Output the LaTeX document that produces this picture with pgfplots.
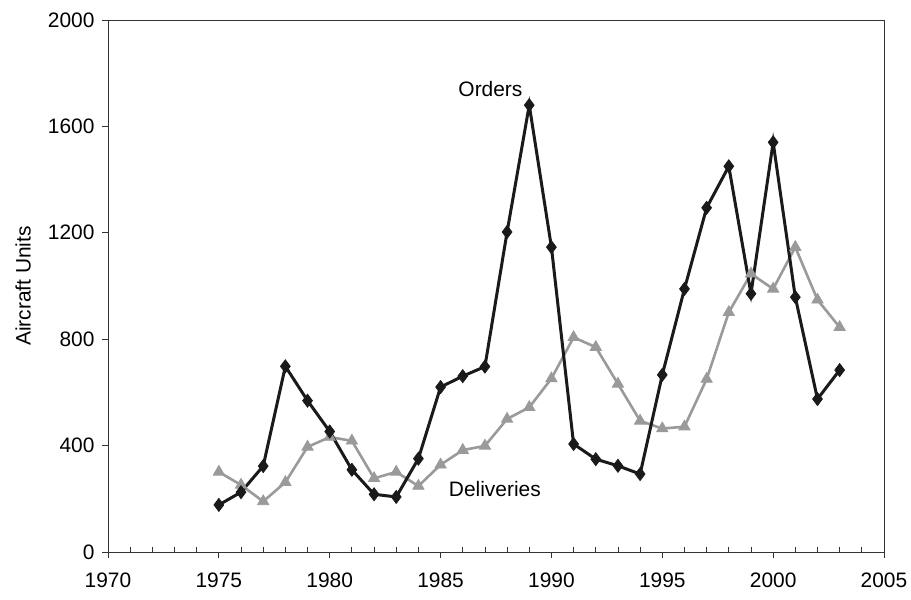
\documentclass[border=0pt]{standalone}
\usepackage{pgfplots}
\pgfplotsset{compat=1.18}
\usepackage{fontspec}
\setmainfont{Liberation Sans}
\definecolor{ordc}{HTML}{1A1A1A}
\definecolor{delc}{HTML}{9A9A9A}
\definecolor{axc}{HTML}{333333}
\begin{document}
\begin{tikzpicture}
\begin{axis}[
  scale only axis,
  width=776bp, height=532bp,
  xmin=1970, xmax=2005, ymin=0, ymax=2000,
  xtick={1970,1975,...,2005},
  ytick={0,400,...,2000},
  minor x tick num=4,
  xtick pos=bottom, ytick pos=left,
  tick align=outside,
  major tick length=6bp,
  minor tick length=-5bp,
  tick style={axc, line width=0.8bp},
  axis line style={axc, line width=0.8bp},
  font=\fontsize{21}{25}\selectfont,
  tick label style={font=\fontsize{21}{25}\selectfont},
  xticklabel style={yshift=-11bp},
  yticklabel style={xshift=-4bp},
  /pgf/number format/assume math mode=true,
  /pgf/number format/1000 sep={},
  ylabel={Aircraft Units},
  ylabel style={font=\fontsize{21}{25}\selectfont, at={(axis description cs:-0.1095,0.5)}, anchor=center},
  clip=false,
]
\addplot[delc, line width=2.6bp, mark=triangle*, mark size=6.5bp, mark options={fill=delc, draw=delc, line width=0.8bp}] coordinates {
(1975,301) (1976,252) (1977,190) (1978,262) (1979,395) (1980,432) (1981,418) (1982,277) (1983,301) (1984,248)
(1985,328) (1986,383) (1987,399) (1988,500) (1989,544) (1990,652) (1991,807) (1992,770) (1993,632) (1994,493)
(1995,464) (1996,471) (1997,650) (1998,901) (1999,1046) (2000,989) (2001,1146) (2002,948) (2003,845)
};
\addplot[ordc, line width=3bp, mark=diamond*, mark size=6.5bp, mark options={fill=ordc, draw=ordc, line width=0.8bp}] coordinates {
(1975,177) (1976,225) (1977,323) (1978,698) (1979,569) (1980,453) (1981,309) (1982,217) (1983,207) (1984,351)
(1985,620) (1986,661) (1987,697) (1988,1203) (1989,1680) (1990,1146) (1991,406) (1992,349) (1993,324) (1994,293)
(1995,666) (1996,989) (1997,1294) (1998,1450) (1999,971) (2000,1540) (2001,958) (2002,575) (2003,684)
};
\node[font=\fontsize{21}{25}\selectfont] at (axis cs:1987.25,1740) {Orders};
\node[font=\fontsize{21}{25}\selectfont] at (axis cs:1987.45,237) {Deliveries};
\coordinate (ll) at (rel axis cs:0,0);
\end{axis}
\pgfresetboundingbox
\path ([xshift=-108bp,yshift=-48bp]ll) rectangle ++(911bp,600bp);
\end{tikzpicture}
\end{document}
